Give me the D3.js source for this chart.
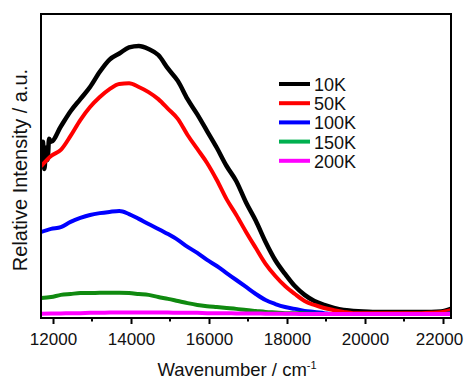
<!DOCTYPE html>
<html>
<head>
<meta charset="utf-8">
<script src="https://cdn.jsdelivr.net/npm/d3@7"></script>
<style>
  body { margin: 0; background: #fff; }
  svg { display: block; font-family: Arial, "Liberation Sans", sans-serif; }
</style>
</head>
<body>
<svg id="chart" width="465" height="379"></svg>
<script>
// wavenumber grid (cm-1) shared by every spectrum
var wavenumbers = [11700, 11950, 12200, 12450, 12700, 12950, 13200, 13450, 13700, 13950,
  14200, 14450, 14700, 14950, 15200, 15450, 15700, 15950, 16200, 16450,
  16700, 16950, 17200, 17450, 17700, 17950, 18200, 18450, 18700, 18950,
  19200, 19450, 19700, 19950, 20200, 20450, 20700, 20950, 21200, 21450,
  21700, 21950, 22200];

// relative intensity
var k10 = [0.54, 0.58, 0.63, 0.68, 0.72, 0.76, 0.81, 0.85, 0.87, 0.89,
  0.895, 0.885, 0.865, 0.82, 0.78, 0.72, 0.67, 0.615, 0.56, 0.50,
  0.45, 0.38, 0.32, 0.25, 0.19, 0.145, 0.105, 0.076, 0.056, 0.043,
  0.033, 0.026, 0.023, 0.021, 0.02, 0.02, 0.02, 0.02, 0.02, 0.02,
  0.02, 0.021, 0.03];
// the noisy start of the 10K trace
var k10EdgeWn = [11700, 11740, 11780, 11820, 11860, 11900];
var k10Edge = [0.50, 0.58, 0.49, 0.56, 0.52, 0.59];

var k50 = [0.50, 0.533, 0.553, 0.599, 0.651, 0.694, 0.727, 0.753, 0.770, 0.772,
  0.760, 0.743, 0.720, 0.688, 0.655, 0.602, 0.556, 0.510, 0.454, 0.391,
  0.339, 0.283, 0.230, 0.178, 0.138, 0.105, 0.079, 0.056, 0.043, 0.033,
  0.026, 0.020, 0.016, 0.016, 0.016, 0.016, 0.016, 0.016, 0.016, 0.016,
  0.017, 0.019, 0.026];

var k100 = [0.283, 0.293, 0.299, 0.316, 0.329, 0.339, 0.345, 0.349, 0.352, 0.342,
  0.326, 0.309, 0.293, 0.276, 0.257, 0.234, 0.214, 0.191, 0.171, 0.148,
  0.125, 0.102, 0.079, 0.059, 0.046, 0.036, 0.030, 0.023, 0.020, 0.016,
  0.013, 0.013, 0.013, 0.013, 0.013, 0.013, 0.013, 0.013, 0.013, 0.013,
  0.013, 0.013, 0.016];

var k150 = [0.066, 0.069, 0.076, 0.079, 0.082, 0.082, 0.083, 0.083, 0.083, 0.082,
  0.079, 0.076, 0.069, 0.063, 0.056, 0.049, 0.043, 0.039, 0.036, 0.033,
  0.030, 0.026, 0.023, 0.020, 0.018, 0.016, 0.016, 0.015, 0.014, 0.013,
  0.013, 0.013, 0.013, 0.013, 0.013, 0.013, 0.013, 0.013, 0.013, 0.013,
  0.013, 0.013, 0.014];

var k200 = [0.014, 0.015, 0.015, 0.016, 0.016, 0.017, 0.017, 0.018, 0.018, 0.018,
  0.018, 0.018, 0.018, 0.018, 0.017, 0.017, 0.017, 0.016, 0.016, 0.016,
  0.015, 0.015, 0.015, 0.014, 0.014, 0.014, 0.014, 0.013, 0.013, 0.013,
  0.013, 0.013, 0.013, 0.013, 0.013, 0.013, 0.013, 0.013, 0.013, 0.013,
  0.013, 0.013, 0.013];

var seriesNames = ["10K", "50K", "100K", "150K", "200K"];
var lineColors = ["#000000", "#ff0000", "#0000ff", "#108a10", "#ff00ff"];
var legendColors = ["#000000", "#ff0000", "#0000ff", "#00b050", "#ff00ff"];
var xTicks = [12000, 14000, 16000, 18000, 20000, 22000];
var xMinorTicks = [13000, 15000, 17000, 19000, 21000];

var svg = d3.select("#chart");
// plot box (window.top is reserved, so no "top" here)
var plotL = 41, plotR = 451, plotT = 14, plotB = 318;

var x = d3.scaleLinear().domain([11692, 22205]).range([plotL, plotR]);
var y = d3.scaleLinear().domain([0, 1]).range([plotB, plotT]);

// build the point lists
var k10Points = k10EdgeWn.map(function(w, i) { return [w, k10Edge[i]]; })
  .concat(wavenumbers.map(function(w, i) { return [w, k10[i]]; }).filter(function(p) { return p[0] > 11920; }));
function pairs(vals) {
  return wavenumbers.map(function(w, i) { return [w, vals[i]]; });
}
var lines = [k10Points, pairs(k50), pairs(k100), pairs(k150), pairs(k200)];

svg.append("clipPath").attr("id", "plotClip")
  .append("rect")
  .attr("x", plotL).attr("y", plotT)
  .attr("width", plotR - plotL).attr("height", plotB - plotT);

var line = d3.line()
  .x(function(d) { return x(d[0]); })
  .y(function(d) { return y(d[1]); })
  .curve(d3.curveMonotoneX);

svg.append("g").attr("clip-path", "url(#plotClip)")
  .selectAll("path")
  .data(lines)
  .enter()
  .append("path")
  .attr("d", line)
  .attr("fill", "none")
  .attr("stroke", function(d, i) { return lineColors[i]; })
  .attr("stroke-width", function(d, i) { return i === 0 ? 4.5 : 4; })
  .attr("stroke-linejoin", "round")
  .attr("stroke-linecap", "round");

// x axis, ticks pointing out
var xAxis = svg.append("g")
  .attr("transform", "translate(0," + plotB + ")")
  .call(d3.axisBottom(x).tickValues(xTicks).tickSize(6).tickPadding(9).tickFormat(d3.format("d")));
xAxis.select(".domain").remove();
xAxis.selectAll(".tick line").attr("stroke", "#000").attr("stroke-width", 2);
xAxis.selectAll(".tick text")
  .attr("font-size", "17px")
  .attr("fill", "#111")
  .attr("font-family", "Arial, 'Liberation Sans', sans-serif")
  // last label sits a bit left so it stays inside the picture
  .attr("dx", function(d) { return d === 22000 ? -4 : 0; });

svg.append("g").selectAll("line")
  .data(xMinorTicks)
  .enter()
  .append("line")
  .attr("x1", function(d) { return x(d); })
  .attr("x2", function(d) { return x(d); })
  .attr("y1", plotB)
  .attr("y2", plotB + 3.5)
  .attr("stroke", "#000")
  .attr("stroke-width", 2);

// frame
svg.append("rect")
  .attr("x", plotL).attr("y", plotT)
  .attr("width", plotR - plotL).attr("height", plotB - plotT)
  .attr("fill", "none")
  .attr("stroke", "#000")
  .attr("stroke-width", 2);

// axis titles
var xTitle = svg.append("text")
  .attr("x", 237).attr("y", 376)
  .attr("text-anchor", "middle")
  .attr("font-size", "18.5px")
  .attr("fill", "#111");
xTitle.append("tspan").text("Wavenumber  / cm");
xTitle.append("tspan").attr("dy", -7).attr("font-size", "11px").text("-1");

svg.append("text")
  .attr("transform", "translate(27,170) rotate(-90)")
  .attr("text-anchor", "middle")
  .attr("font-size", "20px")
  .attr("fill", "#111")
  .text("Relative Intensity / a.u.");

// legend
var legend = svg.append("g").selectAll("g")
  .data(seriesNames)
  .enter()
  .append("g")
  .attr("transform", function(d, i) { return "translate(279," + (84 + i * 19.2) + ")"; });
legend.append("line")
  .attr("x1", 0).attr("x2", 31)
  .attr("stroke", function(d, i) { return legendColors[i]; })
  .attr("stroke-width", 4);
legend.append("text")
  .attr("x", 35).attr("y", 7)
  .attr("font-size", "18px")
  .attr("fill", "#111")
  .text(function(d) { return d; });
</script>
</body>
</html>
